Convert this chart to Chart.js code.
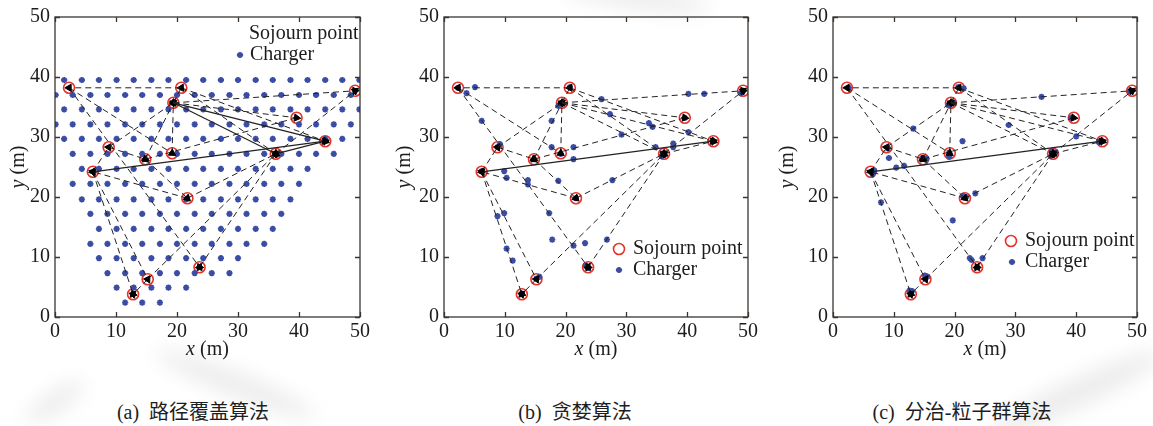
<!DOCTYPE html>
<html>
<head>
<meta charset="utf-8">
<script src="https://cdn.jsdelivr.net/npm/chart.js@4.4.1/dist/chart.umd.min.js"></script>
<style>
  html, body { margin: 0; padding: 0; background: #fff; }
  #wrap { position: relative; width: 1153px; height: 426px; overflow: hidden; background: #fff; }
  .panel { position: absolute; top: 0; }
  .caption { position: absolute; top: 400px; font-family: "Liberation Serif", "Noto Sans CJK SC", serif;
             font-size: 20px; line-height: 24px; color: #1e1e1e; white-space: pre; transform: translateX(-50%); }
  .smudge { position: absolute; background: #cfcfcf; filter: blur(10px); opacity: 0.4; border-radius: 50%; }
</style>
</head>
<body>
<div id="wrap">
  <div class="smudge" style="left:150px;top:372px;width:170px;height:24px;transform:rotate(22deg);"></div>
  <div class="smudge" style="left:20px;top:392px;width:70px;height:20px;transform:rotate(-35deg);"></div>
  <div class="smudge" style="left:980px;top:380px;width:190px;height:28px;transform:rotate(-25deg);"></div>
  <div class="smudge" style="left:560px;top:-14px;width:150px;height:22px;transform:rotate(8deg);"></div>

  <canvas id="panelA" class="panel" style="left:0px;" width="380" height="370"></canvas>
  <canvas id="panelB" class="panel" style="left:385px;" width="380" height="370"></canvas>
  <canvas id="panelC" class="panel" style="left:770px;" width="383" height="370"></canvas>

  <div class="caption" style="left:193px;">(a)  路径覆盖算法</div>
  <div class="caption" style="left:575px;">(b)  贪婪算法</div>
  <div class="caption" style="left:962px;">(c)  分治-粒子群算法</div>
</div>

<script>
// Sojourn points (same in all three layouts), metres
const sojournX = [2.3, 20.7, 49.2, 19.4, 39.6, 44.3, 8.8, 19.2, 14.8, 36.2, 6.2, 21.7, 23.7, 15.2, 12.8];
const sojournY = [38.2, 38.2, 37.7, 35.7, 33.2, 29.3, 28.3, 27.3, 26.3, 27.2, 24.2, 19.8, 8.3, 6.3, 3.8];

// Charging route legs: index of start and end sojourn point (arrow at the end)
const routeFrom = [1, 0, 0, 3, 1, 1, 3, 3, 3, 3, 6, 8, 7, 4, 9, 9, 5, 10, 6, 8, 11, 11, 10, 10, 13, 13, 9];
const routeTo   = [0, 7, 12, 1, 9, 5, 2, 4, 5, 9, 3, 3, 3, 8, 2, 5, 10, 6, 8, 11, 10, 9, 14, 13, 14, 9, 12];

// Legs drawn as solid lines in each layout (indices into the route arrays)
const solidLegsA = [8, 9, 15, 16];
const solidLegsB = [16];
const solidLegsC = [16];

// (a) path-coverage chargers, one row per y value
const gridRowY = [39.5, 37.0, 34.6, 32.1, 29.7, 27.2, 24.7, 22.2, 19.6, 17.2, 14.7, 12.2, 9.8, 7.3, 4.9, 2.4];
const gridRowX = [
  [1.5, 4.4, 7.2, 10.1, 12.9, 15.8, 18.6, 21.5, 24.3, 27.2, 30.0, 32.9, 35.7, 38.6, 41.4, 44.3, 47.1, 49.9],
  [0.1, 2.9, 5.8, 8.6, 11.5, 14.3, 17.2, 20.0, 22.9, 25.7, 28.6, 31.4, 34.3, 37.1, 40.0, 42.8, 45.7, 48.5],
  [1.5, 4.4, 7.2, 10.1, 12.9, 15.8, 18.6, 21.5, 24.3, 27.2, 30.0, 32.9, 35.7, 38.6, 41.4, 44.3, 47.1, 49.9],
  [0.1, 2.9, 5.8, 8.6, 11.5, 14.3, 17.2, 20.0, 22.9, 25.7, 28.6, 31.4, 34.3, 37.1, 40.0, 42.8, 45.7, 48.5],
  [1.5, 4.4, 7.2, 10.1, 12.9, 15.8, 18.6, 21.5, 24.3, 27.2, 30.0, 32.9, 35.7, 38.6, 41.4, 44.3, 47.1],
  [2.9, 5.8, 8.6, 11.5, 14.3, 17.2, 20.0, 22.9, 25.7, 28.6, 31.4, 34.3, 37.1, 40.0, 42.8, 45.7],
  [4.4, 7.2, 10.1, 12.9, 15.8, 18.6, 21.5, 24.3, 27.2, 30.0, 32.9, 35.7, 38.6, 41.4],
  [2.9, 5.8, 8.6, 11.5, 14.3, 17.2, 20.0, 22.9, 25.7, 28.6, 31.4, 34.3, 37.1, 40.0],
  [4.4, 7.2, 10.1, 12.9, 15.8, 18.6, 21.5, 24.3, 27.2, 30.0, 32.9, 35.7, 38.6],
  [5.8, 8.6, 11.5, 14.3, 17.2, 20.0, 22.9, 25.7, 28.6, 31.4, 34.3, 37.1],
  [7.2, 10.1, 12.9, 15.8, 18.6, 21.5, 24.3, 27.2, 30.0, 32.9, 35.7],
  [5.8, 8.6, 11.5, 14.3, 17.2, 20.0, 22.9, 25.7, 28.6, 31.4, 34.3],
  [7.2, 10.1, 12.9, 15.8, 18.6, 21.5, 24.3, 27.2, 30.0],
  [8.6, 11.5, 14.3, 17.2, 20.0, 22.9, 25.7, 28.6],
  [10.1, 12.9, 15.8, 18.6, 21.5],
  [11.5, 14.3, 17.2]
];

// (b) greedy chargers
const greedyX = [2.3, 5.1, 3.7, 20.7, 25.9, 40.2, 42.8, 48.8, 49.2, 19.4, 18.8, 6.2, 17.7, 27.3, 39.6, 33.7, 34.3, 29.2,
                 40.2, 44.3, 37.7, 37.7, 34.8, 36.1, 35.8, 8.8, 9.2, 17.7, 21.3, 19.2, 14.8, 21.3, 6.2, 9.9, 10.3, 13.8,
                 13.8, 18.8, 27.7, 21.7, 8.8, 9.9, 10.3, 11.3, 17.3, 17.8, 21.3, 23.2, 26.8, 23.3, 23.7, 15.2, 15.7, 12.8];
const greedyY = [38.2, 38.3, 37.3, 38.3, 36.3, 37.2, 37.2, 37.3, 37.7, 35.6, 35.2, 32.7, 32.7, 33.8, 33.2, 32.3, 31.7, 30.4,
                 30.8, 29.3, 28.9, 28.3, 28.3, 27.3, 26.8, 28.3, 28.8, 28.3, 28.3, 27.2, 26.3, 26.3, 24.3, 24.3, 23.2, 22.8,
                 22.1, 22.7, 22.8, 19.8, 16.8, 17.3, 11.4, 9.4, 17.3, 12.9, 11.9, 12.3, 12.9, 8.6, 8.2, 6.4, 6.7, 3.9];

// (c) divide-and-conquer PSO chargers
const psoX = [2.6, 20.6, 21.5, 34.3, 48.8, 19.0, 19.8, 39.2, 28.9, 40.0, 13.2, 21.3, 43.7, 9.0, 9.2, 19.1, 19.1, 14.7, 15.4,
              10.4, 11.7, 6.8, 6.5, 35.9, 36.6, 36.0, 21.4, 21.9, 23.4, 7.9, 19.7, 22.5, 22.8, 24.6, 15.1, 15.5, 12.6, 13.0];
const psoY = [38.2, 38.3, 38.1, 36.7, 37.6, 35.3, 35.7, 33.2, 32.0, 30.1, 31.4, 29.3, 29.2, 28.1, 26.5, 27.4, 26.7, 26.5, 26.4,
              24.9, 25.2, 24.4, 23.8, 26.9, 27.4, 27.6, 20.2, 20.0, 20.6, 19.1, 16.1, 9.8, 9.5, 9.8, 6.9, 6.7, 4.4, 4.3];

const axisTicks = [0, 10, 20, 30, 40, 50];

const SERIF = '"Liberation Serif", "Times New Roman", serif';
const RED = '#e5342b';
const BLUE = '#3b4ca4';
const INK = '#1c1c1c';
const CHARGER_RADIUS = 3.1;
const CHARGER_WIDTH = 1.8;

// Frame with inward tick marks on all four sides
const framePlugin = {
  id: 'frame',
  afterDraw(chart) {
    const { ctx, chartArea: a, scales: { x, y } } = chart;
    const len = 5;
    ctx.save();
    ctx.strokeStyle = '#3a3530';
    ctx.lineWidth = 1.3;
    ctx.strokeRect(a.left, a.top, a.right - a.left, a.bottom - a.top);
    ctx.beginPath();
    axisTicks.forEach(v => {
      const px = Math.round(x.getPixelForValue(v)) + 0.5;
      const py = Math.round(y.getPixelForValue(v)) + 0.5;
      ctx.moveTo(px, a.bottom); ctx.lineTo(px, a.bottom - len);
      ctx.moveTo(px, a.top); ctx.lineTo(px, a.top + len);
      ctx.moveTo(a.left, py); ctx.lineTo(a.left + len, py);
      ctx.moveTo(a.right, py); ctx.lineTo(a.right - len, py);
    });
    ctx.stroke();
    ctx.restore();
  }
};

// Axis titles with an italic variable name
function drawMixed(ctx, italicPart, normalPart, cx, cy) {
  ctx.font = 'italic 20px ' + SERIF;
  const w1 = ctx.measureText(italicPart).width;
  ctx.font = '20px ' + SERIF;
  const w2 = ctx.measureText(normalPart).width;
  const start = cx - (w1 + w2) / 2;
  ctx.textAlign = 'left';
  ctx.textBaseline = 'middle';
  ctx.font = 'italic 20px ' + SERIF;
  ctx.fillText(italicPart, start, cy);
  ctx.font = '20px ' + SERIF;
  ctx.fillText(normalPart, start + w1, cy);
}

const axisTitlePlugin = {
  id: 'axisTitles',
  afterDraw(chart, args, opts) {
    const { ctx, chartArea: a } = chart;
    ctx.save();
    ctx.fillStyle = INK;
    drawMixed(ctx, 'x', ' (m)', (a.left + a.right) / 2, a.bottom + opts.xTitleDy);
    ctx.translate(a.left + opts.yTitleDx, (a.top + a.bottom) / 2);
    ctx.rotate(-Math.PI / 2);
    drawMixed(ctx, 'y', ' (m)', 0, 0);
    ctx.restore();
  }
};

// In-plot legend
const legendPlugin = {
  id: 'panelLegend',
  afterDraw(chart, args, opts) {
    const { ctx, chartArea: a } = chart;
    ctx.save();
    opts.items.forEach(it => {
      const y = a.top + it.y;
      if (it.marker === 'circle') {
        ctx.strokeStyle = RED;
        ctx.lineWidth = 1.6;
        ctx.beginPath();
        ctx.arc(a.left + it.mx, y, 5.5, 0, Math.PI * 2);
        ctx.stroke();
      } else if (it.marker === 'star') {
        ctx.strokeStyle = BLUE;
        ctx.fillStyle = BLUE;
        ctx.lineWidth = CHARGER_WIDTH;
        Chart.helpers.drawPoint(ctx, { pointStyle: 'star', radius: CHARGER_RADIUS, borderWidth: CHARGER_WIDTH, rotation: 0 }, a.left + it.mx, y);
      }
      ctx.fillStyle = INK;
      ctx.font = '20px ' + SERIF;
      ctx.textAlign = 'left';
      ctx.textBaseline = 'middle';
      ctx.fillText(it.text, a.left + it.tx, y);
    });
    ctx.restore();
  }
};

function buildPanel(canvasId, chargerX, chargerY, solidLegs, layout) {
  const datasets = [];

  routeFrom.forEach((f, i) => {
    const t = routeTo[i];
    const solid = solidLegs.includes(i);
    datasets.push({
      data: [{ x: sojournX[f], y: sojournY[f] }, { x: sojournX[t], y: sojournY[t] }],
      showLine: true,
      borderColor: '#222',
      borderWidth: solid ? 1.2 : 1,
      borderDash: solid ? [] : [6, 4],
      pointStyle: 'triangle',
      pointRadius: [0, 4.2],
      pointBorderWidth: 1,
      pointBackgroundColor: '#000',
      pointBorderColor: '#000',
      pointRotation: (ctx) => {
        const xs = ctx.chart.scales.x, ys = ctx.chart.scales.y;
        const dx = xs.getPixelForValue(sojournX[t]) - xs.getPixelForValue(sojournX[f]);
        const dy = ys.getPixelForValue(sojournY[t]) - ys.getPixelForValue(sojournY[f]);
        return Math.atan2(dy, dx) * 180 / Math.PI + 90;
      },
      order: 1
    });
  });

  datasets.push({
    label: 'Sojourn point',
    data: sojournX.map((x, i) => ({ x, y: sojournY[i] })),
    pointStyle: 'circle',
    pointRadius: 5.5,
    pointBorderWidth: 1.6,
    pointBorderColor: RED,
    pointBackgroundColor: 'rgba(0,0,0,0)',
    showLine: false,
    order: 3
  });

  datasets.push({
    label: 'Charger',
    data: chargerX.map((x, i) => ({ x, y: chargerY[i] })),
    pointStyle: 'star',
    pointRadius: CHARGER_RADIUS,
    pointBorderWidth: CHARGER_WIDTH,
    pointBorderColor: BLUE,
    pointBackgroundColor: BLUE,
    showLine: false,
    order: 2
  });

  return new Chart(document.getElementById(canvasId), {
    type: 'scatter',
    data: { datasets },
    options: {
      responsive: false,
      devicePixelRatio: 1,
      animation: false,
      events: [],
      layout: { padding: { top: 15, right: layout.padRight, left: 0, bottom: 0 } },
      scales: {
        x: {
          type: 'linear', min: 0, max: 50,
          afterBuildTicks: (s) => { s.ticks = axisTicks.map(v => ({ value: v })); },
          afterFit: (s) => { s.height = 53; },
          grid: { display: false, drawTicks: false },
          border: { display: false },
          ticks: { padding: 3, color: INK, font: { family: SERIF, size: 20 }, maxRotation: 0 }
        },
        y: {
          type: 'linear', min: 0, max: 50,
          afterBuildTicks: (s) => { s.ticks = axisTicks.map(v => ({ value: v })); },
          afterFit: (s) => { s.width = layout.yWidth; },
          grid: { display: false, drawTicks: false },
          border: { display: false },
          ticks: { padding: 5, color: INK, font: { family: SERIF, size: 20 } }
        }
      },
      plugins: {
        legend: { display: false },
        tooltip: { enabled: false },
        axisTitles: { xTitleDy: 33, yTitleDx: layout.yTitleDx },
        panelLegend: { items: layout.legend }
      }
    },
    plugins: [framePlugin, axisTitlePlugin, legendPlugin]
  });
}

// (a) chargers flattened from the grid rows
const gridX = [], gridY = [];
gridRowX.forEach((row, r) => row.forEach(x => { gridX.push(x); gridY.push(gridRowY[r]); }));

buildPanel('panelA', gridX, gridY, solidLegsA, {
  padRight: 20, yWidth: 55, yTitleDx: -36,
  legend: [
    { marker: null, tx: 194, y: 17, text: 'Sojourn point' },
    { marker: 'star', mx: 185, tx: 195, y: 38, text: 'Charger' }
  ]
});

buildPanel('panelB', greedyX, greedyY, solidLegsB, {
  padRight: 17, yWidth: 59, yTitleDx: -39,
  legend: [
    { marker: 'circle', mx: 175, tx: 189, y: 232, text: 'Sojourn point' },
    { marker: 'star', mx: 175, tx: 189, y: 253, text: 'Charger' }
  ]
});

buildPanel('panelC', psoX, psoY, solidLegsC, {
  padRight: 16, yWidth: 63, yTitleDx: -45,
  legend: [
    { marker: 'circle', mx: 178, tx: 192, y: 224, text: 'Sojourn point' },
    { marker: 'star', mx: 179, tx: 192, y: 245, text: 'Charger' }
  ]
});
</script>
</body>
</html>
